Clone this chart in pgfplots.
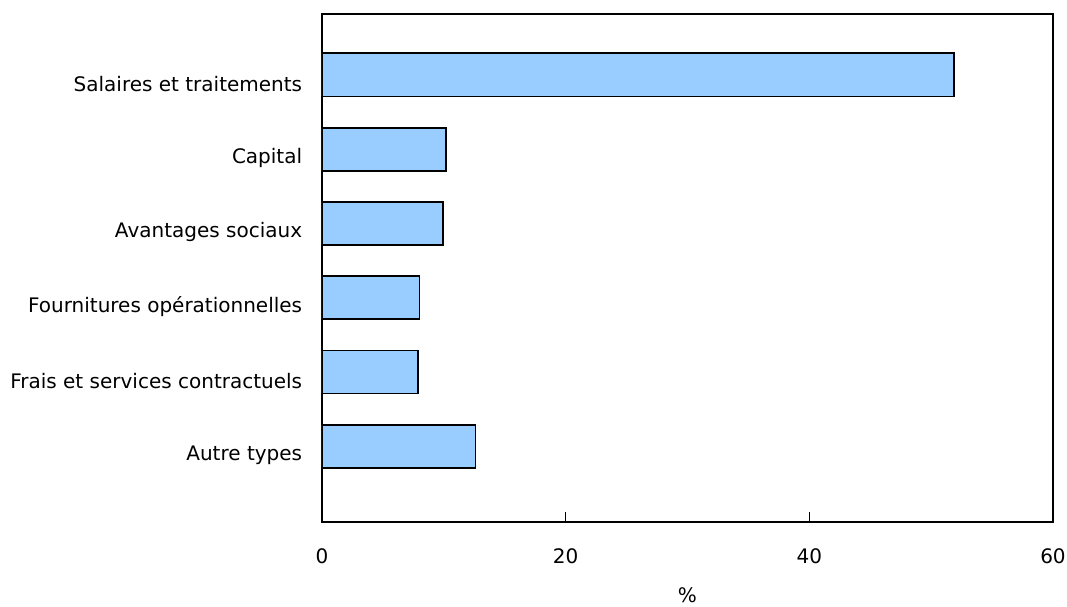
\documentclass[border=0pt]{standalone}
\usepackage{fontspec}
\setmainfont{DejaVu Sans}
\usepackage{pgfplots}
\pgfplotsset{compat=1.18}
\definecolor{barblue}{HTML}{99CCFF}
\begin{document}
\fontsize{20}{24}\selectfont
\begin{tikzpicture}
\begin{axis}[
  scale only axis,
  width=731pt, height=508pt,
  xbar,
  xmin=0, xmax=60,
  ymin=-1.02, ymax=5.82,
  xtick={0,20,40,60},
  ytick={0,1,2,3,4,5},
  yticklabels={Autre types,Frais et services contractuels,Fournitures opérationnelles,Avantages sociaux,Capital,Salaires et traitements},
  /pgf/number format/assume math mode=true,
  tick label style={font=\fontsize{20}{24}\selectfont},
  label style={font=\fontsize{20}{24}\selectfont},
  xtick pos=bottom,
  ytick pos=left,
  major x tick style={line width=1.6pt, black},
  major tick length=10pt,
  tick align=inside,
  major y tick style={draw=none},
  yticklabel style={xshift=-13pt, yshift=-9pt},
  xticklabel style={yshift=-20pt},
  xlabel={\%},
  xlabel style={yshift=-10pt},
  axis line style={line width=1.6pt},
  bar width=43pt,
]
\addplot[fill=barblue, draw=black, line width=1.8pt] coordinates {(12.6,0) (7.9,1) (8.0,2) (9.9,3) (10.2,4) (51.9,5)};
\end{axis}
\pgfresetboundingbox
\path ([xshift=-322pt,yshift=14pt]current axis.north west) rectangle ([xshift=14pt,yshift=-84pt]current axis.south east);
\end{tikzpicture}
\end{document}
